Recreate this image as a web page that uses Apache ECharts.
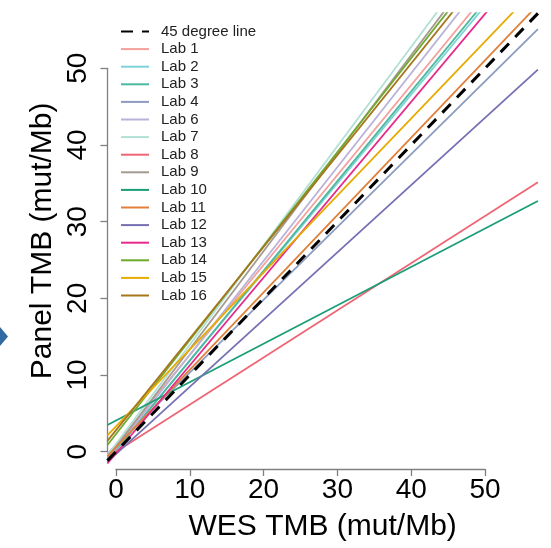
<!DOCTYPE html>
<html>
<head>
<meta charset="utf-8">
<script src="https://cdn.jsdelivr.net/npm/echarts@6/dist/echarts.min.js"></script>
<style>
html,body{margin:0;padding:0;background:#fff;}
#chart{width:551px;height:548px;}
</style>
</head>
<body>
<div id="chart"></div>
<script>
// ---- data (regression lines: intercept + slope) ----
const labs = ['Lab 1','Lab 2','Lab 3','Lab 4','Lab 6','Lab 7','Lab 8','Lab 9','Lab 10','Lab 11','Lab 12','Lab 13','Lab 14','Lab 15','Lab 16'];
const labColors = ['#F4A09C','#7ED3D6','#4DB8A0','#8C9CC0','#B9B3D8','#B2E0D4','#EE6675','#A39A92','#1B9E77','#E0803A','#7570B3','#E7298A','#6FAA2E','#E6AB02','#A6761D'];
const intercepts = [0.9, 0.3, 0.2, 0.81, 0.4, 1.0, 0.0, 0.6, 4.06, 0.6, -0.3, -0.2, 2.3, 3.3, 2.8];
const slopes     = [1.173, 1.157, 1.170, 0.950, 1.224, 1.295, 0.615, 1.278, 0.501, 1.009, 0.877, 1.146, 1.226, 1.004, 1.196];
const refName = '45 degree line';
const refIntercept = 0;
const refSlope = 1;
const xTicks = [0, 10, 20, 30, 40, 50];
const yTicks = [0, 10, 20, 30, 40, 50];
const xTitle = 'WES TMB (mut/Mb)';
const yTitle = 'Panel TMB (mut/Mb)';

// plot region limits (R-style 4% padding)
const X_MIN = -1.16, X_MAX = 57.16;
const Y_MIN = -2.2, Y_MAX = 57.2;

function ablineData(a, b) {
  return [[X_MIN, a + b * X_MIN], [X_MAX, a + b * X_MAX]];
}

const font = 'Liberation Sans, Arial, Helvetica, sans-serif';
const axisGray = '#808080';

const series = labs.map((name, i) => ({
  name: name,
  type: 'line',
  xAxisIndex: 0, yAxisIndex: 0,
  data: ablineData(intercepts[i], slopes[i]),
  showSymbol: false, symbol: 'none',
  clip: true,
  lineStyle: { color: labColors[i], width: 1.8 },
  itemStyle: { color: labColors[i] },
  silent: true
}));
series.push({
  name: refName,
  type: 'line',
  xAxisIndex: 0, yAxisIndex: 0,
  data: ablineData(refIntercept, refSlope),
  showSymbol: false, symbol: 'none',
  clip: true,
  z: 5,
  lineStyle: { color: '#000', width: 3, type: [12, 9] },
  itemStyle: { color: '#000' },
  silent: true
});

const chart = echarts.init(document.getElementById('chart'), null, { renderer: 'canvas' });
chart.setOption({
  animation: false,
  backgroundColor: '#ffffff',
  textStyle: { fontFamily: font },
  graphic: [{
    type: 'polygon',
    shape: { points: [[0, 327], [8, 336.5], [0, 346]] },
    style: { fill: '#2F6AA0' }
  }],
  legend: {
    orient: 'vertical',
    left: 115, top: 18.5,
    itemWidth: 28, itemHeight: 14, itemGap: 1.6,
    data: [refName].concat(labs),
    itemStyle: { opacity: 0 },
    textStyle: { fontSize: 15, lineHeight: 16, color: '#222', fontFamily: font, padding: [0, 0, 0, 7] },
    selectedMode: false
  },
  grid: [
    { left: 107.4, right: 13.1, top: 13.1, bottom: 79.4 },
    { left: 116, right: 66, top: 300, bottom: 79 },
    { left: 107.4, right: 400, top: 68.3, bottom: 96.3 }
  ],
  xAxis: [
    { gridIndex: 0, type: 'value', min: X_MIN, max: X_MAX,
      axisLine: { show: false }, axisTick: { show: false }, axisLabel: { show: false }, splitLine: { show: false },
      name: xTitle, nameLocation: 'middle', nameGap: 43.5,
      nameTextStyle: { fontSize: 30, color: '#000', fontFamily: font } },
    { gridIndex: 1, type: 'value', min: xTicks[0], max: xTicks[xTicks.length - 1], interval: 10,
      axisLine: { show: true, lineStyle: { color: axisGray, width: 1.3 } },
      axisTick: { show: true, length: 7, lineStyle: { color: axisGray, width: 1.3 } },
      axisLabel: { fontSize: 28, color: '#000', margin: 7, fontFamily: font },
      splitLine: { show: false } },
    { gridIndex: 2, type: 'value', show: false }
  ],
  yAxis: [
    { gridIndex: 0, type: 'value', min: Y_MIN, max: Y_MAX,
      axisLine: { show: false }, axisTick: { show: false }, axisLabel: { show: false }, splitLine: { show: false },
      name: yTitle, nameLocation: 'middle', nameGap: 49.5,
      nameTextStyle: { fontSize: 30, color: '#000', fontFamily: font } },
    { gridIndex: 1, type: 'value', show: false },
    { gridIndex: 2, type: 'value', min: yTicks[0], max: yTicks[yTicks.length - 1], interval: 10,
      axisLine: { show: true, lineStyle: { color: axisGray, width: 1.3 } },
      axisTick: { show: true, length: 7, lineStyle: { color: axisGray, width: 1.3 } },
      axisLabel: { fontSize: 28, color: '#000', margin: 15, rotate: 90, fontFamily: font },
      splitLine: { show: false } }
  ],
  series: series
});
</script>
</body>
</html>
